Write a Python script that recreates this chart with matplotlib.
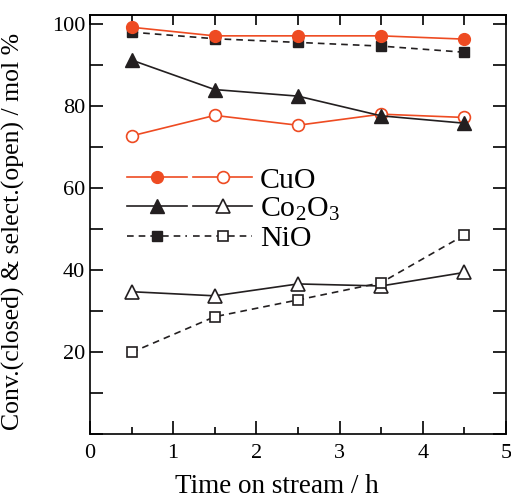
import matplotlib
matplotlib.use("Agg")
import matplotlib.pyplot as plt
from matplotlib.lines import Line2D
from matplotlib.ticker import MultipleLocator

plt.rcParams['font.family'] = ['Liberation Serif', 'DejaVu Serif']
plt.rcParams['mathtext.fontset'] = 'custom'
plt.rcParams['mathtext.rm'] = 'Liberation Serif'
plt.rcParams['mathtext.it'] = 'Liberation Serif:italic'

time_h = [0.5, 1.5, 2.5, 3.5, 4.5]
cuo_conv = [99.2, 97.1, 97.1, 97.1, 96.3]
cuo_sel = [72.7, 77.7, 75.3, 78.0, 77.2]
co_conv = [91.2, 84.0, 82.4, 77.6, 75.8]
co_sel = [34.7, 33.7, 36.6, 36.1, 39.4]
nio_conv = [98.0, 96.4, 95.5, 94.6, 93.1]
nio_sel = [19.9, 28.6, 32.7, 36.9, 48.5]

xticks = [0, 1, 2, 3, 4, 5]
yticks = [20, 40, 60, 80, 100]
labels = ['CuO', r'Co$_\mathrm{2}$O$_\mathrm{3}$', 'NiO']

RED = '#EE4B22'
BLK = '#231F20'
lw = 1.2
ms = 8.5

fig = plt.figure(figsize=(5.11, 4.98), dpi=100)
ax = fig.add_axes([0.176, 0.1285, 0.814, 0.8415])

ax.plot(time_h, cuo_sel, '-', color=RED, lw=lw, marker='o', ms=ms, mfc='white', mec=RED, mew=1.2)
ax.plot(time_h, co_sel, '-', color=BLK, lw=lw, marker='^', ms=ms + 1, mfc='white', mec=BLK, mew=1.2)
ax.plot(time_h, nio_sel, '--', color=BLK, lw=lw, marker='s', ms=ms - 1, mfc='white', mec=BLK, mew=1.2, dashes=(4, 3))
ax.plot(time_h, nio_conv, '--', color=BLK, lw=lw, marker='s', ms=ms - 1, mfc=BLK, mec=BLK, dashes=(4, 3))
ax.plot(time_h, co_conv, '-', color=BLK, lw=lw, marker='^', ms=ms + 1, mfc=BLK, mec=BLK)
ax.plot(time_h, cuo_conv, '-', color=RED, lw=lw, marker='o', ms=ms, mfc=RED, mec=RED)

ax.set_xlim(0, 5)
ax.set_ylim(0, 102.2)
ax.set_xticks(xticks)
ax.set_xticklabels([str(v) for v in xticks])
ax.xaxis.set_minor_locator(MultipleLocator(0.5))
ax.set_yticks(yticks)
ax.set_yticklabels([str(v) for v in yticks])
ax.yaxis.set_minor_locator(MultipleLocator(10))
ax.tick_params(which='both', direction='in', right=True, top=False, labelsize=16, width=1.2)
ax.tick_params(axis='y', which='both', length=9.5)
ax.tick_params(axis='x', which='major', length=9.5, pad=7)
ax.tick_params(axis='x', which='minor', length=5)
sec = ax.secondary_xaxis('top')
sec.xaxis.set_major_locator(MultipleLocator(0.5))
sec.tick_params(direction='in', length=7.5, width=1.2, labeltop=False)
for s in list(ax.spines.values()) + list(sec.spines.values()):
    s.set_linewidth(1.2)

ax.set_xlabel('Time on stream / h', fontsize=19.5)
ax.set_ylabel('Conv.(closed) & select.(open) / mol %', fontsize=18.5)
ax.xaxis.label.set_verticalalignment('baseline')
ax.xaxis.set_label_coords(0.4495, -0.1408)
ax.yaxis.set_label_coords(-0.155, 0.4845)

handles = [
    Line2D([], [], color=RED, lw=lw, marker='o', ms=ms, mfc=RED, mec=RED),
    Line2D([], [], color=BLK, lw=lw, marker='^', ms=ms + 1, mfc=BLK, mec=BLK),
    Line2D([], [], color=BLK, lw=lw, ls='--', dashes=(4, 3), marker='s', ms=ms - 1, mfc=BLK, mec=BLK),
    Line2D([], [], color=RED, lw=lw, marker='o', ms=ms, mfc='white', mec=RED, mew=1.2),
    Line2D([], [], color=BLK, lw=lw, marker='^', ms=ms + 1, mfc='white', mec=BLK, mew=1.2),
    Line2D([], [], color=BLK, lw=lw, ls='--', dashes=(4, 3), marker='s', ms=ms - 1, mfc='white', mec=BLK, mew=1.2),
]
ax.legend(handles, ['', '', ''] + labels, ncol=2, frameon=False, fontsize=21.5,
          handlelength=2.0, handletextpad=0.25, columnspacing=-0.05, labelspacing=0.08,
          loc='upper left', bbox_to_anchor=(0.089, 0.638), borderpad=0, borderaxespad=0)

fig.savefig('out.png', dpi=100)
